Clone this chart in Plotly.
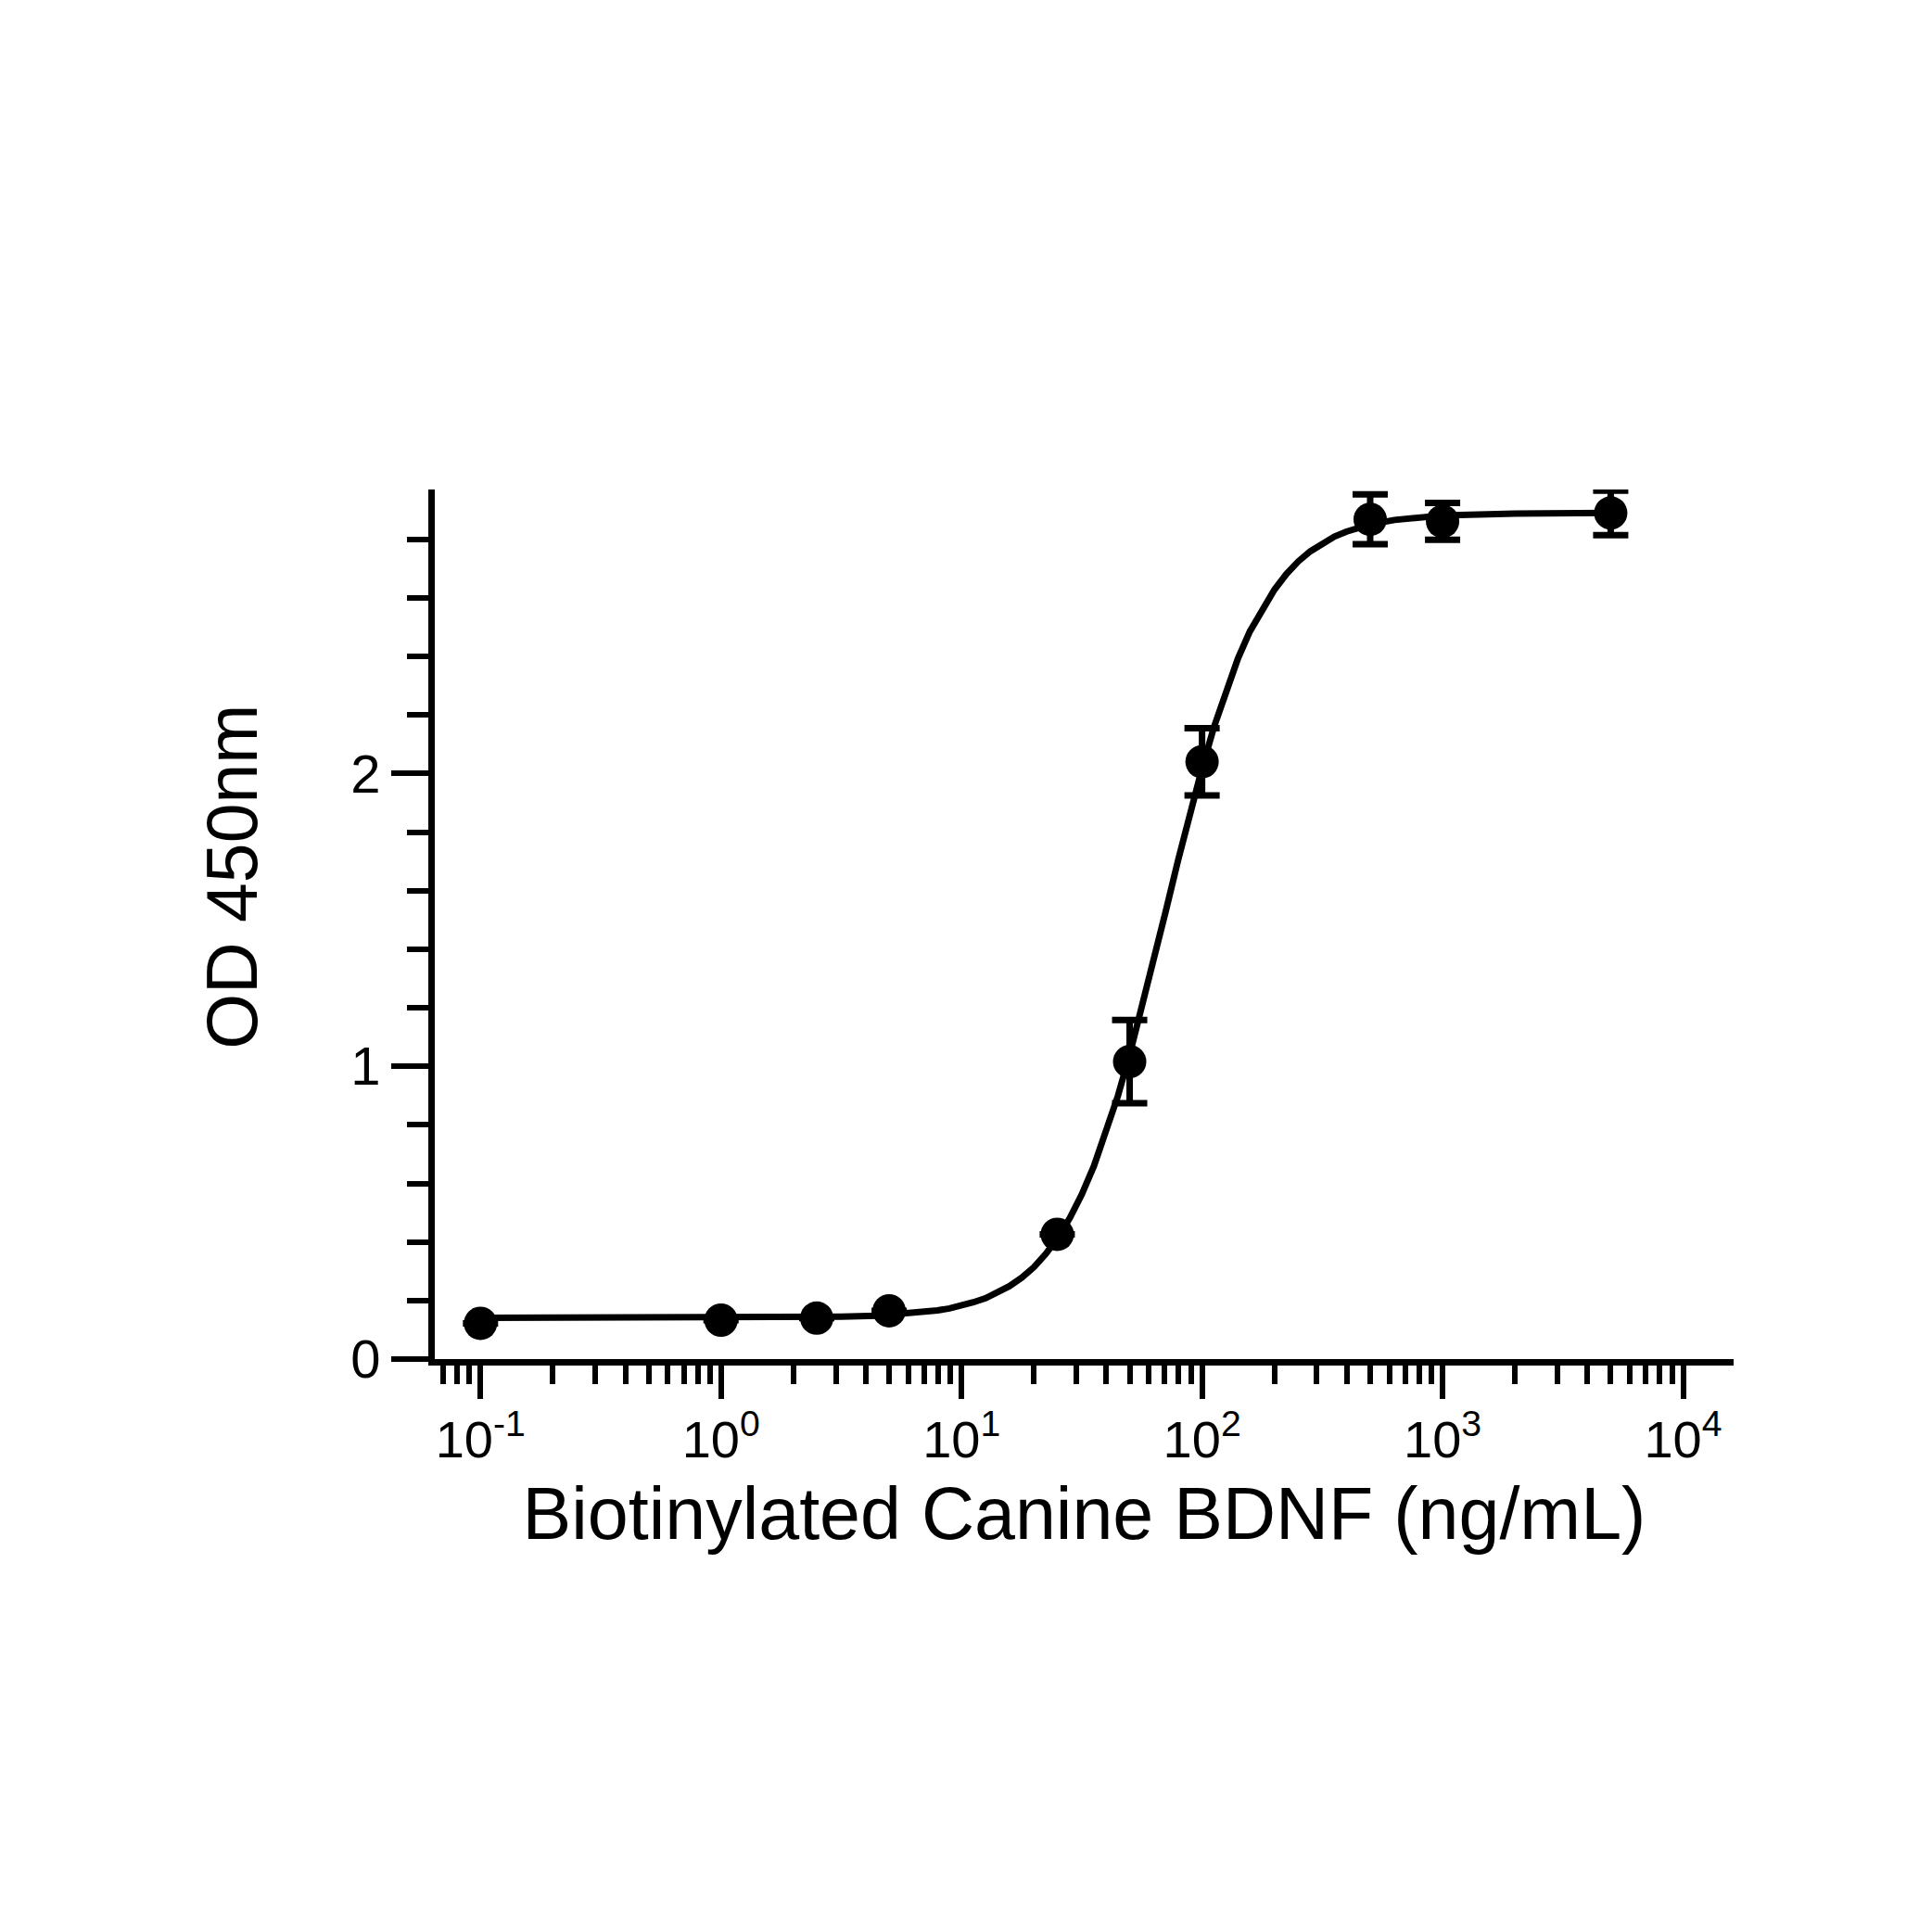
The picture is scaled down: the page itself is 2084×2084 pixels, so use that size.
import plotly.graph_objects as go

conc = [0.1, 1, 2.5, 5, 25, 50, 100, 500, 1000, 5000]
od = [0.122, 0.133, 0.140, 0.165, 0.426, 1.016, 2.04, 2.868, 2.861, 2.89]
od_err = [None, None, None, None, None, 0.142, 0.115, 0.085, 0.063, 0.076]

# Fitted curve
curve_x = [0.1, 1, 2.0, 3.16, 4.47, 6.31, 7.94, 8.91, 10, 11.2, 12.6, 14.1,
           15.8, 17.8, 20, 22.4, 25.1, 28.2, 31.6, 35.5, 39.8, 44.7, 50.1,
           56.2, 63.1, 70.8, 79.4, 89.1, 100, 112, 126, 141, 158, 178, 200,
           224, 251, 282, 316, 355, 398, 501, 631, 1000, 2000, 5000]
curve_y = [0.141, 0.141, 0.142, 0.145, 0.148, 0.157, 0.166, 0.173, 0.182,
           0.194, 0.208, 0.227, 0.249, 0.278, 0.314, 0.359, 0.414, 0.482,
           0.562, 0.659, 0.771, 0.899, 1.042, 1.198, 1.362, 1.533, 1.702,
           1.865, 2.018, 2.158, 2.283, 2.393, 2.485, 2.563, 2.628, 2.681,
           2.724, 2.759, 2.787, 2.809, 2.826, 2.851, 2.866, 2.881, 2.888, 2.890]

x_tickvals = [0.1, 1, 10, 100, 1000, 10000]
x_ticktext = ["10<sup>-1</sup>", "10<sup>0</sup>", "10<sup>1</sup>",
              "10<sup>2</sup>", "10<sup>3</sup>", "10<sup>4</sup>"]
x_minor = [0.07, 0.08, 0.09] + [m * d for d in [0.1, 1, 10, 100, 1000] for m in range(2, 10)]
y_tickvals = [0, 1, 2]
y_ticktext = ["0", "1", "2"]

FONT = "Liberation Sans, Arimo, Arial, sans-serif"

fig = go.Figure()
fig.add_trace(go.Scatter(
    x=curve_x, y=curve_y, mode="lines",
    line=dict(color="black", width=7),
    hoverinfo="skip", showlegend=False,
))
fig.add_trace(go.Scatter(
    x=conc, y=od, mode="markers",
    marker=dict(color="black", size=36, line=dict(width=0)),
    error_y=dict(type="data", array=od_err, visible=True, color="black",
                 thickness=7, width=19),
    cliponaxis=False, showlegend=False,
))

fig.update_layout(
    width=2084, height=2084, autosize=False,
    paper_bgcolor="white", plot_bgcolor="white",
    margin=dict(l=469, r=214, t=528, b=618),
    font=dict(family=FONT, color="black"),
    showlegend=False,
    annotations=[dict(
        text="OD 450nm", textangle=-90, showarrow=False,
        xref="paper", yref="paper", x=-0.156, y=0.555,
        xanchor="center", yanchor="middle",
        font=dict(size=77, family=FONT, color="black"),
    )],
)
fig.update_xaxes(
    type="log", range=[-1.19, 4.21],
    showline=True, linecolor="black", linewidth=7,
    showgrid=False, zeroline=False,
    tickmode="array", tickvals=x_tickvals, ticktext=x_ticktext,
    ticks="outside", ticklen=36, tickwidth=6, tickcolor="black",
    tickfont=dict(size=56, family=FONT), ticklabelstandoff=-4,
    minor=dict(tickvals=x_minor, ticks="outside", ticklen=20, tickwidth=6,
               tickcolor="black", showgrid=False),
    title=dict(text="Biotinylated Canine BDNF (ng/mL)",
               font=dict(size=79, family=FONT), standoff=24),
)
fig.update_yaxes(
    range=[0, 2.97],
    showline=True, linecolor="black", linewidth=7,
    showgrid=False, zeroline=False,
    tickmode="array", tickvals=y_tickvals, ticktext=y_ticktext,
    ticks="outside", ticklen=40, tickwidth=6, tickcolor="black",
    tickfont=dict(size=58, family=FONT),
    minor=dict(dtick=0.2, ticks="outside", ticklen=23, tickwidth=6,
               tickcolor="black", showgrid=False),
)

fig.write_html("out.html", config={"displayModeBar": False},
               post_script="document.body.style.margin='0';")
